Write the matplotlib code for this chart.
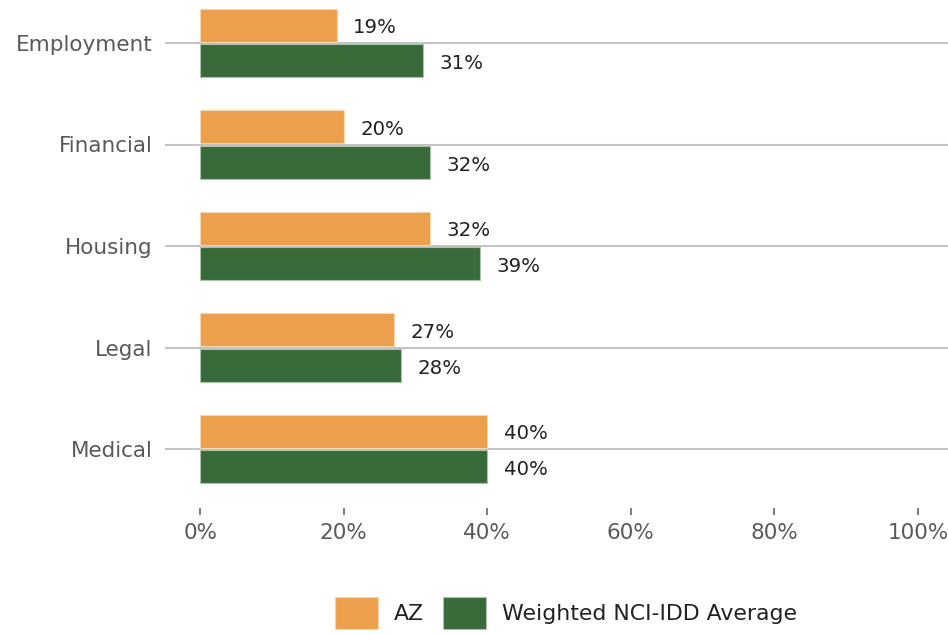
import matplotlib.pyplot as plt
import numpy as np

categories = ["Employment", "Financial", "Housing", "Legal", "Medical"]
az_values = [19, 20, 32, 27, 40]
avg_values = [31, 32, 39, 28, 40]
series_names = ["AZ", "Weighted NCI-IDD Average"]
x_ticks = [0, 20, 40, 60, 80, 100]

orange = "#ECA04C"
green = "#396B3A"

plt.rcParams['font.family'] = ['DejaVu Sans']

fig = plt.figure(figsize=(9.48, 6.35), dpi=100)
ax = fig.add_axes([165 / 948, 1 - 508 / 635, 1 - 165 / 948, 508 / 635])

y = np.arange(len(categories))
off = 0.177
h = 0.325
b1 = ax.barh(y - off, az_values, height=h, color=orange, edgecolor="#f6d6b0",
             linewidth=0.8, label=series_names[0], zorder=3)
b2 = ax.barh(y + off, avg_values, height=h, color=green, edgecolor="#a9c2a9",
             linewidth=0.8, label=series_names[1], zorder=3)

for bars, vals in [(b1, az_values), (b2, avg_values)]:
    for bar, v in zip(bars, vals):
        ax.annotate(f"{v}%", (v, bar.get_y() + bar.get_height() / 2),
                    xytext=(12, -2), textcoords="offset points",
                    va="center", ha="left", fontsize=14.2, color="#222222")

# horizontal lines at category centres
for yy in y:
    ax.axhline(yy, color="#c4c4c4", linewidth=1.5, zorder=1)

ax.set_xlim(-4.9, 104.2)
ax.set_ylim(4 + 59 / 101.5, -43 / 101.5)
ax.set_xticks(x_ticks)
ax.set_xticklabels([f"{t}%" for t in x_ticks])
ax.set_yticks(y)
ax.set_yticklabels(categories)
ax.tick_params(axis="x", length=5, width=1.2, color="#666666", pad=6,
               labelsize=15.5, labelcolor="#595959")
ax.tick_params(axis="y", length=0, pad=9, labelsize=15.5, labelcolor="#595959")
for s in ax.spines.values():
    s.set_visible(False)
ax.patch.set_alpha(0)

fig.legend(handles=[b1, b2], labels=series_names, loc="center",
           bbox_to_anchor=(566 / 948, 1 - 613 / 635), ncol=2, frameon=False,
           fontsize=15.8, handlelength=1.95, handleheight=1.8,
           handletextpad=0.7, columnspacing=0.9, labelcolor="#222222")

fig.savefig("out.png", dpi=100)
